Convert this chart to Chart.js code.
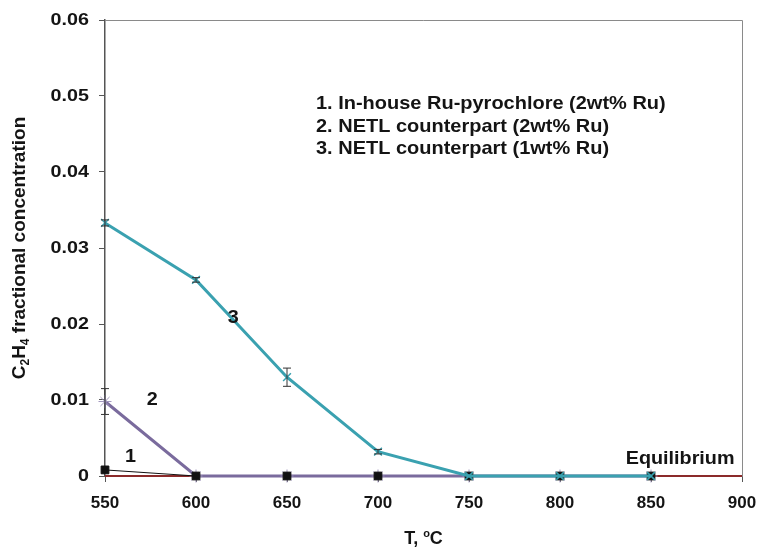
<!DOCTYPE html>
<html>
<head>
<meta charset="utf-8">
<script src="https://cdn.jsdelivr.net/npm/chart.js@4/dist/chart.umd.min.js"></script>
<style>
  html, body { margin: 0; padding: 0; background: #fff; }
  #wrap { width: 761px; height: 553px; }
</style>
</head>
<body>
<div id="wrap"><canvas id="c" width="761" height="553"></canvas></div>
<script>
// Temperatures (°C)
const temps = [550, 600, 650, 700, 750, 800, 850];
const tempTicks = [550, 600, 650, 700, 750, 800, 850, 900];
const concTicks = [0, 0.01, 0.02, 0.03, 0.04, 0.05, 0.06];

// C2H4 fractional concentration per catalyst
const inHouse2wt = [0.0008, 0, 0, 0, 0, 0, 0];
const netl2wt    = [0.0098, 0, 0, 0, 0, 0, 0];
const netl2wtErr = [0.0017, 0, 0, 0, 0, 0, 0];
const netl1wt    = [0.0333, 0.0258, 0.0130, 0.0032, 0, 0, 0];
const netl1wtErr = [0.0004, 0.0003, 0.0012, 0.0003, 0, 0, 0];

// Equilibrium value across the range
const eqTemps  = [550, 900];
const eqValues = [0, 0];

const seriesNames = [
  '1. In-house Ru-pyrochlore (2wt% Ru)',
  '2. NETL counterpart (2wt% Ru)',
  '3. NETL counterpart (1wt% Ru)'
];

// Curve labels, anchored in data units
const curveLabels = [
  { text: '1', x: 564, y: 0.0025 },
  { text: '2', x: 576, y: 0.0100 },
  { text: '3', x: 620.5, y: 0.0208 },
  { text: 'Equilibrium', x: 866, y: 0.0022 }
];

const pts = (xs, ys) => xs.map((x, i) => ({ x, y: ys[i] }));

const FONT = '"Liberation Sans", Arial, "DejaVu Sans", sans-serif';
const TEAL = '#3aa1b0';
const PURPLE = '#7a6b9d';
const AXIS = '#555555';
const INK = '#141414';

// text drawn with a slight horizontal widening
function wideText(ctx, text, x, y, size, sx, align) {
  ctx.save();
  ctx.font = 'bold ' + size + 'px ' + FONT;
  ctx.textBaseline = 'middle';
  const w = ctx.measureText(text).width * sx;
  let left = x;
  if (align === 'center') left = x - w / 2;
  else if (align === 'right') left = x - w;
  ctx.translate(left, y);
  ctx.scale(sx, 1);
  ctx.textAlign = 'left';
  ctx.fillText(text, 0, 0);
  ctx.restore();
}

// runs of [text, kind] where kind is 'n' normal, 'sub', 'sup'
function richText(ctx, runs, size) {
  const widths = runs.map(([t, k]) => {
    ctx.font = 'bold ' + (k === 'n' ? size : Math.round(size * 0.62)) + 'px ' + FONT;
    return ctx.measureText(t).width;
  });
  const total = widths.reduce((a, b) => a + b, 0);
  let x = -total / 2;
  runs.forEach(([t, k], i) => {
    ctx.font = 'bold ' + (k === 'n' ? size : Math.round(size * 0.62)) + 'px ' + FONT;
    const dy = k === 'sub' ? size * 0.3 : k === 'sup' ? -size * 0.3 : 0;
    ctx.fillText(t, x, dy);
    x += widths[i];
  });
}

const errorBars = {
  id: 'errorBars',
  afterDatasetsDraw(chart) {
    const { ctx, scales: { x, y } } = chart;
    ctx.save();
    ctx.strokeStyle = '#333';
    ctx.lineWidth = 1;
    chart.data.datasets.forEach(ds => {
      if (!ds.errors) return;
      ds.data.forEach((p, i) => {
        const e = ds.errors[i];
        if (!e) return;
        const px = x.getPixelForValue(p.x);
        const top = y.getPixelForValue(p.y + e);
        const bot = y.getPixelForValue(p.y - e);
        ctx.beginPath();
        ctx.moveTo(px, top); ctx.lineTo(px, bot);
        ctx.moveTo(px - 4, top); ctx.lineTo(px + 4, top);
        ctx.moveTo(px - 4, bot); ctx.lineTo(px + 4, bot);
        ctx.stroke();
      });
    });
    ctx.restore();
  }
};

const annotations = {
  id: 'annotations',
  beforeDatasetsDraw(chart) {
    const { ctx, chartArea: a } = chart;
    // frame on top and right edges
    ctx.save();
    ctx.strokeStyle = '#8a8a8a';
    ctx.lineWidth = 1;
    ctx.beginPath();
    ctx.moveTo(a.left, a.top + 0.5);
    ctx.lineTo(a.right + 0.5, a.top + 0.5);
    ctx.lineTo(a.right + 0.5, a.bottom);
    ctx.stroke();
    ctx.restore();
  },
  afterDraw(chart) {
    const { ctx, chartArea: a, scales: { x, y } } = chart;
    ctx.save();
    ctx.fillStyle = INK;

    // y tick labels
    concTicks.forEach(v => {
      const label = v === 0 ? '0' : v.toFixed(2);
      wideText(ctx, label, a.left - 16, y.getPixelForValue(v), 17, 1.16, 'right');
    });

    // series key
    seriesNames.forEach((t, i) => {
      wideText(ctx, t, a.left + 211, a.top + 84 + i * 22.5, 18.5, 1.08, 'left');
    });

    // curve labels
    curveLabels.forEach(l => {
      wideText(ctx, l.text, x.getPixelForValue(l.x), y.getPixelForValue(l.y), 18, 1.1, 'center');
    });

    // x axis title
    ctx.save();
    ctx.translate((a.left + a.right) / 2, 539);
    ctx.textBaseline = 'middle';
    ctx.textAlign = 'left';
    richText(ctx, [['T, ', 'n'], ['o', 'sup'], ['C', 'n']], 18);
    ctx.restore();

    // y axis title
    ctx.save();
    ctx.translate(20, (a.top + a.bottom) / 2);
    ctx.rotate(-Math.PI / 2);
    ctx.textBaseline = 'middle';
    ctx.textAlign = 'left';
    richText(ctx, [['C', 'n'], ['2', 'sub'], ['H', 'n'], ['4', 'sub'], [' fractional concentration', 'n']], 19);
    ctx.restore();

    ctx.restore();
  }
};

new Chart(document.getElementById('c'), {
  type: 'line',
  data: {
    datasets: [
      {
        label: seriesNames[2],
        data: pts(temps, netl1wt),
        errors: netl1wtErr,
        borderColor: TEAL, backgroundColor: TEAL,
        borderWidth: 3, pointStyle: 'crossRot', pointRadius: 5.5,
        pointBorderColor: TEAL, pointBorderWidth: 1.5,
        clip: false, order: 0
      },
      {
        label: seriesNames[0],
        data: pts(temps, inHouse2wt),
        borderColor: '#111', backgroundColor: '#111',
        borderWidth: 1, pointStyle: 'rect', pointRadius: 5.5,
        pointBorderColor: '#111',
        // flat part of the line sits under the other curves
        segment: { borderColor: c => (c.p0.parsed.y === 0 && c.p1.parsed.y === 0 ? 'rgba(0,0,0,0)' : '#111') },
        clip: false, order: 1
      },
      {
        label: seriesNames[1],
        data: pts(temps, netl2wt),
        errors: netl2wtErr,
        borderColor: PURPLE, backgroundColor: PURPLE,
        borderWidth: 3, pointStyle: 'star', pointRadius: 6.5,
        pointBorderColor: '#a197bd', pointBorderWidth: 1,
        clip: false, order: 2
      },
      {
        label: 'Equilibrium',
        data: pts(eqTemps, eqValues),
        borderColor: '#8b2a2a', borderWidth: 2,
        pointRadius: 0,
        clip: false, order: 3
      }
    ]
  },
  options: {
    responsive: false,
    animation: false,
    layout: { padding: { left: 0, top: 20, right: 19, bottom: 0 } },
    plugins: { legend: { display: false }, tooltip: { enabled: false } },
    elements: { line: { tension: 0 } },
    scales: {
      x: {
        type: 'linear',
        min: 550, max: 900,
        afterFit: s => { s.height = 77; s.paddingLeft = 0; s.paddingRight = 0; },
        afterBuildTicks: s => { s.ticks = tempTicks.map(v => ({ value: v })); },
        grid: { drawOnChartArea: false, drawTicks: true, tickLength: 6, color: AXIS },
        border: { color: AXIS, width: 1.5 },
        ticks: { color: INK, padding: 11, font: { family: FONT, size: 17, weight: 'bold' } }
      },
      y: {
        min: 0, max: 0.06,
        afterFit: s => { s.width = 105; s.paddingTop = 0; s.paddingBottom = 0; },
        afterBuildTicks: s => { s.ticks = concTicks.map(v => ({ value: v })); },
        grid: { drawOnChartArea: false, drawTicks: true, tickLength: 6, color: AXIS },
        border: { color: AXIS, width: 1.5 },
        ticks: { display: false }
      }
    }
  },
  plugins: [errorBars, annotations]
});
</script>
</body>
</html>
